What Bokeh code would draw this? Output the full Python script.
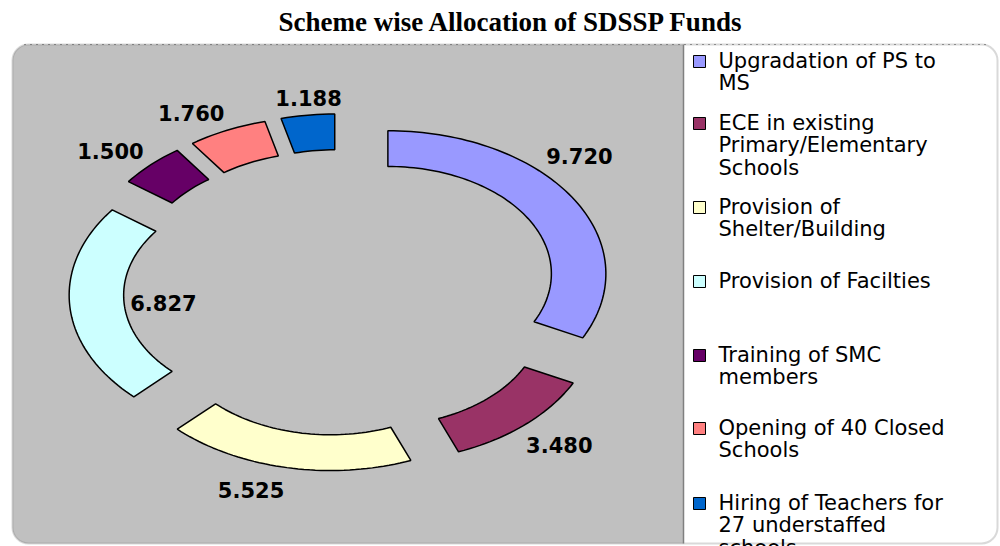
import math
from bokeh.plotting import figure
from bokeh.models import Range1d, BoxAnnotation, Label
from bokeh.embed import file_html
from bokeh.resources import INLINE
from bokeh.core.properties import value

# ---------------- data ----------------
TITLE = "Scheme wise Allocation of SDSSP Funds"
categories = [
    "Upgradation of PS to MS",
    "ECE in existing Primary/Elementary Schools",
    "Provision of Shelter/Building",
    "Provision of Facilties",
    "Training of SMC members",
    "Opening of 40 Closed Schools",
    "Hiring of Teachers for 27 understaffed schools",
]
legend_labels = [
    "Upgradation of PS to\nMS",
    "ECE in existing\nPrimary/Elementary\nSchools",
    "Provision of\nShelter/Building",
    "Provision of Facilties",
    "Training of SMC\nmembers",
    "Opening of 40 Closed\nSchools",
    "Hiring of Teachers for\n27 understaffed\nschools",
]
values = [9.720, 3.480, 5.525, 6.827, 1.500, 1.760, 1.188]

# ---------------- styles / layout ----------------
colors = ["#9999FF", "#993366", "#FFFFCC", "#CCFFFF", "#660066", "#FF8080", "#0066CC"]
label_radius = [1.45, 1.46, 1.44, 0.82, 1.45, 1.43, 1.37]      # relative to outer radius
label_nudge_deg = [-9.5, -0.7, 5.2, -0.6, -2.6, -4.0, 0.8]     # manual label placement tweak

W, H = 1000, 546          # figure size (page starts at 0,0)
PX0, PY0 = 0, 0
CX, CY = 341, 292         # doughnut centre, page pixels
RX, RY = 218, 143         # outer radii, page pixels (stretched ellipse)
INNER = 0.75
EXPLODE = 0.25
legend_rows_y = [61, 123, 207, 281, 355, 428, 503]   # page y of first legend line centre
LEG_FS = 21


def dx(px):
    return (px - CX) / RX


def dy(py):
    return (CY - py) / RY


p = figure(width=W, height=H, min_border=0, toolbar_location=None,
           output_backend="svg", x_axis_location=None, y_axis_location=None,
           x_range=Range1d(dx(PX0), dx(PX0 + W)),
           y_range=Range1d(dy(PY0 + H), dy(PY0)))
p.outline_line_color = None
p.grid.visible = False
p.background_fill_color = "white"
p.border_fill_color = "white"

# chart area (grey) and outer frame
p.add_layout(BoxAnnotation(left=dx(12), right=dx(683), top=dy(44), bottom=dy(543),
                           fill_color="#C0C0C0", fill_alpha=1, line_color=None,
                           border_radius=dict(top_left=16, bottom_left=16, top_right=0, bottom_right=0),
                           level="underlay"))
p.add_layout(BoxAnnotation(left=dx(12), right=dx(997), top=dy(44), bottom=dy(543),
                           fill_alpha=0, line_color="#808080", line_width=2,
                           border_radius=16, level="underlay"))
p.line([dx(683), dx(683)], [dy(44), dy(543)], line_color="#808080", line_width=1.5)
p.line([dx(24), dx(985)], [dy(44), dy(44)], line_color="#404040", line_width=1, line_dash="1 5")

# exploded doughnut
total = sum(values)
xs, ys, lx, ly = [], [], [], []
a = 0.0
for i, v in enumerate(values):
    a0 = a
    a1 = a + v / total * 2 * math.pi
    am = (a0 + a1) / 2
    ox, oy = EXPLODE * math.sin(am), EXPLODE * math.cos(am)
    n = max(8, int((a1 - a0) / (2 * math.pi) * 240))
    ts = [a0 + (a1 - a0) * k / n for k in range(n + 1)]
    px_ = [ox + math.sin(t) for t in ts] + [ox + INNER * math.sin(t) for t in reversed(ts)]
    py_ = [oy + math.cos(t) for t in ts] + [oy + INNER * math.cos(t) for t in reversed(ts)]
    xs.append(px_)
    ys.append(py_)
    al = am + math.radians(label_nudge_deg[i])
    lx.append(label_radius[i] * math.sin(al))
    ly.append(label_radius[i] * math.cos(al))
    a = a1

p.patches(xs, ys, fill_color=colors, line_color="black", line_width=1.5)
p.text(lx, ly, text=[f"{v:.3f}" for v in values], text_align="center", text_baseline="middle",
       text_font=value("DejaVu Sans"), text_font_style="bold", text_font_size="21px",
       text_color="black")

# legend
p.scatter([dx(699)] * len(values), [dy(y) for y in legend_rows_y], marker="square", size=12,
          fill_color=colors, line_color="black", line_width=1)
p.text([dx(718)] * len(values), [dy(y - 12.5) for y in legend_rows_y], text=legend_labels,
       text_align="left", text_baseline="top", text_font=value("DejaVu Sans"),
       text_font_size=f"{LEG_FS}px", text_line_height=0.93, text_color="black")

# title
p.add_layout(Label(x=dx(511), y=dy(21), text=TITLE, text_align="center", text_baseline="middle",
                   text_font="Liberation Serif", text_font_style="bold", text_font_size="27px",
                   text_color="black"))

open("out.html", "w").write(file_html(p, INLINE))
